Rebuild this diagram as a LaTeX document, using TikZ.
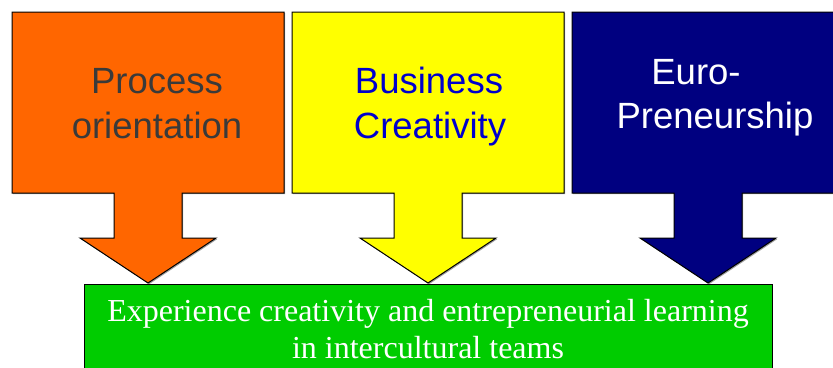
\documentclass[tikz,border=0pt]{standalone}
\usepackage{fontspec}
\setmainfont{Liberation Serif}
\newfontfamily\arialf{Liberation Sans}
\definecolor{cOrange}{HTML}{FF6600}
\definecolor{cYellow}{HTML}{FFFF00}
\definecolor{cNavy}{HTML}{000080}
\definecolor{cGreen}{HTML}{00CC00}
\definecolor{cGreyText}{HTML}{3A3A3A}
\definecolor{cBlueText}{HTML}{0000CC}
\definecolor{cShadow}{HTML}{A0A0A0}
\newcommand\calloutpath[1]{(#1,12) -- (#1+272,12) -- (#1+272,193) -- (#1+170,193) -- (#1+170,238) -- (#1+204,238) -- (#1+136,283) -- (#1+68,238) -- (#1+102,238) -- (#1+102,193) -- (#1,193) -- cycle}
\tikzset{
  calloutstyle/.style={draw=black, line width=1pt, line join=miter},
  shadowstyle/.style={fill=cShadow, draw=none},
  bigsans/.style={font=\arialf\fontsize{36.5}{44}\selectfont, anchor=base, inner sep=0pt},
  serifwhite/.style={font=\fontsize{32}{37}\selectfont, text=white, anchor=base, inner sep=0pt},
}
\begin{document}
\begin{tikzpicture}[x=1pt,y=-1pt]
\useasboundingbox[fill=white] (0,0) rectangle (833,367);
% shadows
\path[shadowstyle, shift={(1.2,1.2)}] \calloutpath{12};
\path[shadowstyle, shift={(1.2,1.2)}] \calloutpath{292};
\path[shadowstyle, shift={(1.2,1.2)}] \calloutpath{572};
% callouts
\path[calloutstyle, fill=cOrange] \calloutpath{12};
\path[calloutstyle, fill=cYellow] \calloutpath{292};
\path[calloutstyle, fill=cNavy] \calloutpath{572};
% green box
\fill[cShadow] (85.2,285.2) rectangle (773.2,380);
\node[draw=black, line width=1pt, fill=cGreen, minimum width=688pt, minimum height=100pt, anchor=north west, inner sep=0pt] (goal) at (84,284) {};
% texts
\node[bigsans, text=cGreyText] (p1) at (157,93) {Process};
\node[bigsans, text=cGreyText] (p2) at (157,138) {orientation};
\node[bigsans, text=cBlueText] (b1) at (429,93) {Business};
\node[bigsans, text=cBlueText] (b2) at (430,138) {Creativity};
\node[bigsans, text=white] (e1) at (696,84) {Euro-};
\node[bigsans, text=white] (e2) at (715,128) {Preneurship};
\node[serifwhite] (g1) at (428,321) {Experience creativity and entrepreneurial learning};
\node[serifwhite] (g2) at (428,358) {in intercultural teams};
\end{tikzpicture}
\end{document}
